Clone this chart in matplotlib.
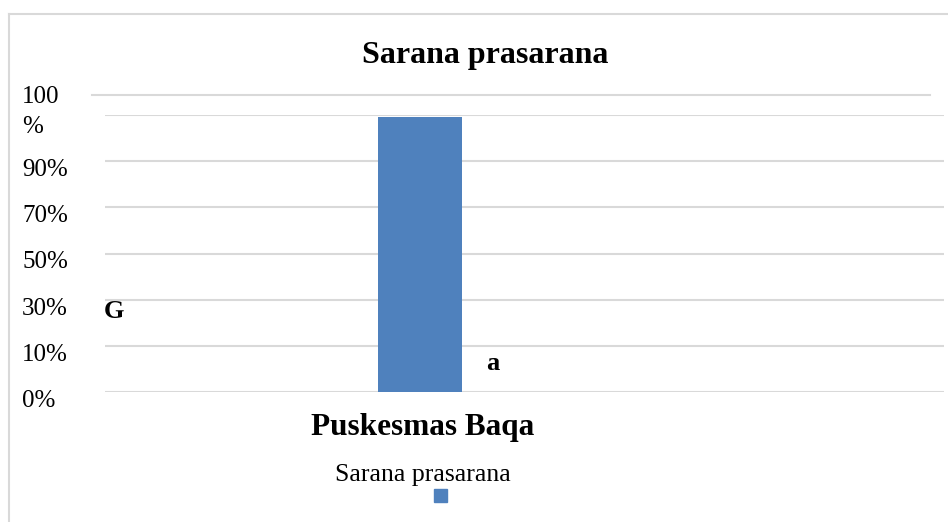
import matplotlib.pyplot as plt
from matplotlib.lines import Line2D
from matplotlib.patches import Rectangle
from matplotlib.transforms import blended_transform_factory, ScaledTranslation

# data
categories = ["Puskesmas Baqa"]
values = [99.3]
series_name = "Sarana prasarana"
tick_pos = [0, 16.67, 33.33, 50, 66.67, 83.33, 100]
tick_labels = ["0%", "10%", "30%", "50%", "70%", "90%", "100\n%"]

plt.rcParams["font.family"] = ["Liberation Serif", "DejaVu Serif"]
W, H = 948, 522
grid_col = "#d9d9d9"
bar_col = "#4f81bd"

fig = plt.figure(figsize=(W / 100, H / 100), dpi=100)


def fx(px):
    return px / W


def fy(py):
    return 1 - py / H


# outer frame (left and top edges visible)
fig.add_artist(Line2D([fx(9), fx(9)], [fy(14), 0], color=grid_col, lw=1.5))
fig.add_artist(Line2D([fx(9), 1], [fy(14), fy(14)], color=grid_col, lw=1.5))

# stray letter, drawn under the axes so the gridline cuts across it
fig.text(fx(104), fy(312), "G", fontsize=19, fontweight="bold", ha="left", va="center", zorder=-1)

ax = fig.add_axes([fx(105), fy(392), fx(944) - fx(105), fy(115) - fy(392)])
ax.patch.set_visible(False)
ax.set_ylim(0, 100)
ax.set_xlim(-0.3754, 0.6246)
for sp in ax.spines.values():
    sp.set_visible(False)
ax.set_xticks([])
ax.set_yticks([])

for t in tick_pos:
    ax.axhline(t, color=grid_col, lw=1.5, zorder=1)
# stray extra gridline above the plot
fig.add_artist(Line2D([fx(92), fx(930)], [fy(95), fy(95)], color=grid_col, lw=1.5))

ax.bar(range(len(categories)), values, width=0.1, color=bar_col, zorder=2)

# y tick labels, left aligned near the frame
tr = blended_transform_factory(fig.transFigure, ax.transData)
for t, lab in zip(tick_pos, tick_labels):
    dy = 3 if "\n" in lab else -9
    off = ScaledTranslation(0, dy / 100, fig.dpi_scale_trans)
    ax.text(fx(22), t, lab, transform=tr + off, ha="left", va="center",
            fontsize=18, linespacing=1.5, clip_on=False)

fig.text(fx(486), fy(364), "a", fontsize=19, fontweight="bold", ha="left", va="center")

fig.text(fx(485), fy(55), series_name, fontsize=23, fontweight="bold", ha="center", va="center")
fig.text(fx(423), fy(428), categories[0], fontsize=22.5, fontweight="bold", ha="center", va="center")

# legend: label above swatch
fig.text(fx(423), fy(475), series_name, fontsize=18.5, ha="center", va="center")
fig.add_artist(Rectangle((fx(434), fy(502)), fx(13), 13 / H, color=bar_col,
                         transform=fig.transFigure))

fig.savefig("out.png", dpi=100)
